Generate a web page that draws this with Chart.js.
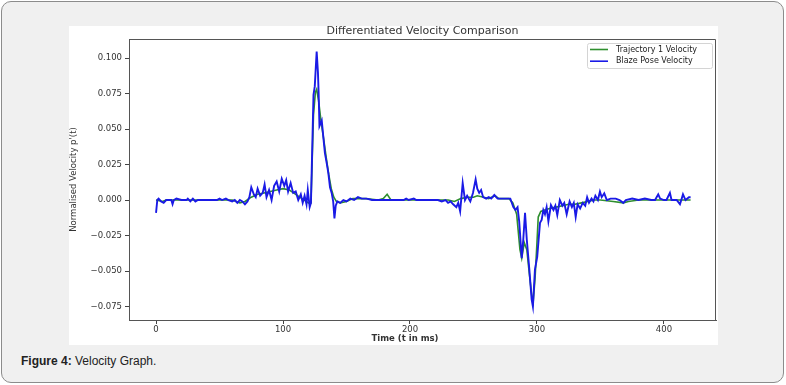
<!DOCTYPE html>
<html>
<head>
<meta charset="utf-8">
<title>Velocity Graph</title>
<script src="https://cdn.jsdelivr.net/npm/chart.js@4.4.1/dist/chart.umd.min.js"></script>
<style>
    html, body { margin: 0; padding: 0; background: #fff; }
    #frame {
        position: absolute; left: 1px; top: 1px; width: 783px; height: 382px;
        box-sizing: border-box; border: 1px solid #8c8c8c; border-radius: 10px;
        background: #f0f0f0;
    }
    #plot { position: absolute; left: 69px; top: 26px; width: 649px; height: 319px; background: #fff; }
    #caption {
        position: absolute; left: 21px; top: 354px;
        font: 12px "Liberation Sans", Arial, sans-serif; color: #222;
    }
</style>
</head>
<body>
<div id="frame"></div>
<div id="plot"><canvas id="velocityChart" width="649" height="319"></canvas></div>
<div id="caption"><b>Figure 4:</b> Velocity Graph.</div>
<script>
// Trajectory 1 velocity (smoother green curve)
var trajTime = [0, 5, 8, 60, 66, 70, 75, 80, 85, 90, 95, 100, 105, 110, 115, 120, 122,
    124, 125.5, 126.5, 128, 130, 132, 134, 136, 138, 140, 142, 145, 150, 155, 160, 165,
    175, 179, 182, 185, 190, 230, 235, 240, 245, 250, 253, 258, 262, 267, 270, 278, 281,
    284, 286.6, 288, 290, 292, 294, 296, 297, 298.5, 300, 301, 303, 306, 310, 315, 320,
    325, 330, 335, 340, 345, 350, 360, 368, 372, 380, 421];
var trajVel = [0, -0.001, 0, 0, -0.002, -0.001, 0.002, 0.004, 0.005, 0.006, 0.007, 0.008, 0.007, 0.004, 0.001, -0.002, -0.002,
    0.060, 0.076, 0.078, 0.070, 0.055, 0.043, 0.030, 0.018, 0.008, 0.002, -0.001, -0.002, -0.001, 0.001, 0.001, 0.001,
    0, 0.001, 0.004, 0, 0, 0, -0.001, 0.001, 0.002, 0.002, 0.003, 0.002, 0.001, 0.003, 0.001, 0.001, -0.002,
    -0.010, -0.035, -0.041, -0.030, -0.035, -0.052, -0.068, -0.072, -0.055, -0.030, -0.012, -0.008, -0.007, -0.006, -0.005, -0.004,
    -0.003, -0.003, -0.002, -0.001, 0, 0, -0.001, -0.002, -0.001, 0, 0];

// Blaze Pose velocity (noisy blue curve)
var blazeTime = [0, 1, 2, 4, 6, 8, 12, 13, 14, 16, 20, 24, 25, 27, 29, 31, 33, 48, 50, 52, 55, 57,
    60, 62, 64, 66, 68, 70, 72, 73.5, 75, 77, 78.5, 80, 82, 84, 85.5, 87, 89, 91, 93, 95, 97,
    99, 101, 102.5, 104, 106, 108, 110, 112, 114, 115.5, 117, 118.5, 119.5, 121, 122, 124, 125,
    126.5, 127.5, 128, 128.7, 130.5, 132, 133, 134.4, 135.7, 137, 138.3, 139.5, 140.5, 141.5,
    142.8, 145, 147.5, 150, 153, 156, 159, 162, 166, 170, 195, 197, 199, 203, 205, 222, 225, 228,
    230, 232, 234, 236.5, 238, 239.5, 241.5, 243.3, 245, 247.5, 249.6, 251.7, 253, 254.5, 256,
    257.6, 260, 262, 264, 266.4, 269, 272, 276, 279, 281.4, 283, 284.7, 286, 288, 289.2, 290.6,
    292, 294, 295.8, 296.8, 298.4, 300.2, 302.4, 303.7, 305, 306.3, 307.6, 309, 311, 313, 314.5,
    316, 318, 320, 321.5, 323.4, 325.7, 327.5, 329, 330.5, 332, 334, 336, 338, 339.5, 341, 343,
    344.5, 346, 348, 349.6, 351, 353, 355, 358, 362, 365, 368, 370, 375, 380, 385, 390, 393,
    395.5, 397, 400, 402, 404.7, 406, 410, 412.6, 414, 415, 417, 419.7, 421];
var blazeVel = [-0.009, 0, 0.001, -0.001, -0.002, 0, 0, -0.003, 0, 0.001, 0, 0, 0.001, -0.001, 0.001, -0.001, 0, 0, 0.001, 0, 0.001, 0,
    -0.001, 0, -0.002, 0, -0.001, -0.003, -0.001, 0.002, 0.009, 0.004, 0.002, 0.008, 0.003, 0.005, 0.011, 0.002, 0.007, 0, 0.010, 0.013, 0.006,
    0.015, 0.010, 0.014, 0.006, 0.012, 0.005, 0.006, 0, 0.004, -0.002, 0.003, -0.003, 0.007, -0.005, -0.002, 0.074, 0.080,
    0.1045, 0.090, 0.077, 0.052, 0.056, 0.042, 0.033, 0.026, 0.019, 0.009, 0.005, -0.001, -0.013, -0.004,
    -0.001, -0.002, 0, -0.001, 0.001, 0, 0.002, 0.001, 0.001, 0, 0, 0.001, 0, 0.001, 0, 0, -0.001, 0,
    -0.002, -0.001, -0.003, -0.005, -0.002, -0.008, 0.012, 0, 0.003, -0.001, 0.005, 0.0145, 0.008, 0.005, 0.007,
    0.002, 0.001, 0.002, 0.001, 0.0035, 0.001, 0.001, 0.001, 0.001, -0.005, -0.007, -0.005, -0.015, -0.041, -0.028, -0.009,
    -0.028, -0.049, -0.070, -0.075, -0.049, -0.040, -0.016, -0.014, -0.007, -0.010, -0.005, -0.015, -0.0035, -0.007, -0.004,
    -0.0106, 0, -0.004, -0.002, -0.010, -0.001, -0.005, -0.002, -0.012, -0.003, -0.006, -0.002, -0.004, 0.002, -0.002, 0.001,
    -0.001, 0.003, 0, 0.006, 0.002, 0.0047, 0, 0.001, 0.001, 0, -0.002, 0, 0.001, 0, 0.001, 0, 0,
    0.004, 0.001, 0, 0, 0.005, 0, 0, -0.003, 0.001, 0.004, 0, 0.002, 0.002];

var xTicks = [0, 100, 200, 300, 400];
var yTicks = [-0.075, -0.05, -0.025, 0, 0.025, 0.05, 0.075, 0.1];

var chartTitle = "Differentiated Velocity Comparison";
var xTitle = "Time (t in ms)";
var seriesLabels = ["Trajectory 1 Velocity", "Blaze Pose Velocity"];
var seriesColors = ["#2f8f2f", "#1a1ae6"];

function toPoints(times, values) {
    var points = [];
    for (var i = 0; i < times.length; ++i) {
        points.push({x: times[i], y: values[i]});
    }
    return points;
}

function formatTick(v) {
    if (Math.abs(v) < 1e-9) return "0.000";
    return (v < 0 ? "\u2212" : "") + Math.abs(v).toFixed(3);
}

var tickFont = {family: "'DejaVu Sans', sans-serif", size: 8.5};

// title, top/right spines, legend box and x axis label
var extrasPlugin = {
    id: 'extras',
    afterDraw: function(chart) {
        var ctx = chart.ctx;
        var a = chart.chartArea;
        ctx.save();
        ctx.strokeStyle = "#555";
        ctx.lineWidth = 1;
        ctx.beginPath();
        ctx.moveTo(Math.round(a.left) + 0.5, Math.round(a.top) + 0.5);
        ctx.lineTo(Math.round(a.right) - 0.5, Math.round(a.top) + 0.5);
        ctx.lineTo(Math.round(a.right) - 0.5, Math.round(a.bottom));
        ctx.stroke();

        // title centred over the axes
        ctx.font = "11px 'DejaVu Sans', sans-serif";
        ctx.textAlign = "center";
        ctx.textBaseline = "middle";
        ctx.fillStyle = "#333";
        ctx.fillText(chartTitle, (a.left + a.right) / 2, 5.5);

        // legend
        var bx = a.right - 129, by = a.top + 4, bw = 125, bh = 25;
        ctx.fillStyle = "rgba(255,255,255,0.85)";
        ctx.strokeStyle = "#d4d4d4";
        ctx.beginPath();
        ctx.roundRect(bx + 0.5, by + 0.5, bw, bh, 2);
        ctx.fill();
        ctx.stroke();
        ctx.font = "8px 'DejaVu Sans', sans-serif";
        ctx.textAlign = "left";
        ctx.fillStyle = "#222";
        for (var i = 0; i < seriesLabels.length; ++i) {
            var ly = by + 6.5 + i * 11.7;
            ctx.strokeStyle = seriesColors[i];
            ctx.lineWidth = 1.6;
            ctx.beginPath();
            ctx.moveTo(bx + 3, ly);
            ctx.lineTo(bx + 21, ly);
            ctx.stroke();
            ctx.fillText(seriesLabels[i], bx + 29, ly);
        }

        // x axis label
        ctx.font = "bold 8.5px 'DejaVu Sans', sans-serif";
        ctx.textAlign = "center";
        ctx.fillStyle = "#333";
        ctx.fillText(xTitle, 336, 313);
        ctx.restore();
    }
};

var velocityChartCanvas = document.getElementById("velocityChart").getContext("2d");

var velocityChart = new Chart(velocityChartCanvas, {
    type: 'line',
    data: {
        datasets: [
            {
                label: seriesLabels[0],
                data: toPoints(trajTime, trajVel),
                borderColor: seriesColors[0],
                borderWidth: 1.6,
                pointRadius: 0,
                tension: 0,
                order: 1
            },
            {
                label: seriesLabels[1],
                data: toPoints(blazeTime, blazeVel),
                borderColor: seriesColors[1],
                borderWidth: 1.9,
                pointRadius: 0,
                tension: 0,
                order: 0
            }
        ]
    },
    options: {
        responsive: false,
        animation: false,
        layout: { padding: { top: 13, right: 2 } },
        plugins: {
            legend: { display: false },
            tooltip: { enabled: false },
            title: { display: false }
        },
        scales: {
            x: {
                type: 'linear',
                min: -21.3,
                max: 441,
                afterBuildTicks: function(scale) {
                    scale.ticks = xTicks.map(function(v) { return {value: v}; });
                },
                afterFit: function(scale) { scale.height = 25; },
                grid: { drawOnChartArea: false, drawTicks: true, tickLength: 4, tickColor: "#444" },
                border: { display: true, color: "#555" },
                ticks: {
                    font: tickFont, color: "#333", padding: 1, maxRotation: 0,
                    callback: function(v) { return String(v); }
                }
            },
            y: {
                type: 'linear',
                min: -0.0845,
                max: 0.1134,
                afterBuildTicks: function(scale) {
                    scale.ticks = yTicks.map(function(v) { return {value: v}; });
                },
                afterFit: function(scale) { scale.width = 60; },
                grid: { drawOnChartArea: false, drawTicks: true, tickLength: 4, tickColor: "#444" },
                border: { display: true, color: "#555" },
                ticks: {
                    font: tickFont, color: "#333", padding: 3,
                    callback: function(v) { return formatTick(v); }
                },
                title: {
                    display: true,
                    text: "Normalised Velocity p'(t)",
                    color: "#333",
                    font: {family: "'DejaVu Sans', sans-serif", size: 8.5},
                    padding: {top: 0, bottom: 0}
                }
            }
        }
    },
    plugins: [extrasPlugin]
});
</script>
</body>
</html>
